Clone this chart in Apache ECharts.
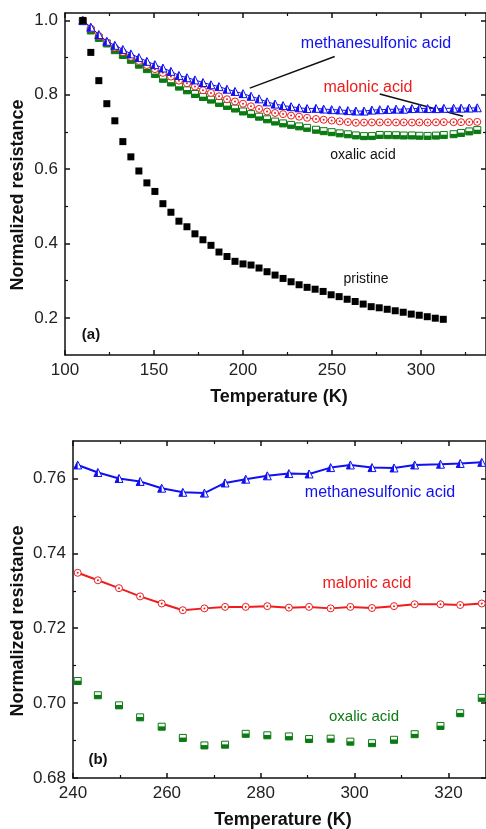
<!DOCTYPE html>
<html>
<head>
<meta charset="utf-8">
<script src="https://cdn.jsdelivr.net/npm/echarts@6.0.0/dist/echarts.min.js"></script>
<style>
  html, body { margin: 0; padding: 0; background: #fff; }
  #chart { width: 486px; height: 829px; }
</style>
</head>
<body>
<div id="chart"></div>
<script>
// panel (a): pristine sample
var tempPristine = [110, 114.5, 119, 123.5, 128, 132.5, 137, 141.5, 146, 150.5, 155, 159.5, 164, 168.5, 173, 177.5,
    182, 186.5, 191, 195.5, 200, 204.5, 209, 213.5, 218, 222.5, 227, 231.5, 236, 240.5, 245, 249.5, 254, 258.5,
    263, 267.5, 272, 276.5, 281, 285.5, 290, 294.5, 299, 303.5, 308, 312.5];
var pristine = [1.0, 0.914, 0.838, 0.776, 0.730, 0.674, 0.633, 0.595, 0.563, 0.540, 0.507, 0.484, 0.460, 0.445, 0.426, 0.410,
    0.395, 0.377, 0.365, 0.352, 0.345, 0.342, 0.334, 0.324, 0.315, 0.306, 0.297, 0.289, 0.282, 0.277, 0.271, 0.262, 0.257, 0.250,
    0.244, 0.237, 0.230, 0.227, 0.223, 0.219, 0.215, 0.210, 0.207, 0.203, 0.199, 0.196];

// panel (a): acid treated samples
var tempAcidA = [110, 114.5, 119, 123.5, 128, 132.5, 137, 141.5, 146, 150.5, 155, 159.5, 164, 168.5, 173, 177.5,
    182, 186.5, 191, 195.5, 200, 204.5, 209, 213.5, 218, 222.5, 227, 231.5, 236,
    241, 245.3, 249.8, 254.3, 258.9, 263.4, 268, 272.4, 276.8, 281.4, 286, 290.3, 294.9, 299.1, 303.7, 308.4,
    312.8, 318.3, 322.5, 327.1, 331.6];
var methaneA = [1.0, 0.982, 0.962, 0.944, 0.933, 0.922, 0.910, 0.900, 0.890, 0.881, 0.872, 0.863, 0.852, 0.846, 0.840, 0.833,
    0.827, 0.822, 0.815, 0.809, 0.803, 0.796, 0.789, 0.781, 0.775, 0.771, 0.768, 0.765, 0.763,
    0.7636, 0.7616, 0.7600, 0.7592, 0.7574, 0.7563, 0.7561, 0.7588, 0.7598, 0.7607, 0.7613, 0.7612, 0.7629, 0.7636, 0.7629, 0.7628,
    0.7636, 0.7638, 0.7640, 0.7643, 0.7650];
var malonicA = [1.0, 0.978, 0.958, 0.941, 0.927, 0.915, 0.902, 0.891, 0.880, 0.869, 0.859, 0.849, 0.838, 0.831, 0.822, 0.812,
    0.805, 0.796, 0.788, 0.782, 0.776, 0.769, 0.762, 0.755, 0.751, 0.748, 0.744, 0.741, 0.738,
    0.7348, 0.7328, 0.7307, 0.7285, 0.7266, 0.7248, 0.7253, 0.7257, 0.7257, 0.7259, 0.7255, 0.7257, 0.7253, 0.7257, 0.7254, 0.7259,
    0.7264, 0.7264, 0.7262, 0.7266, 0.7270];
var oxalicA = [0.998, 0.973, 0.953, 0.938, 0.920, 0.907, 0.894, 0.881, 0.869, 0.856, 0.843, 0.833, 0.822, 0.812, 0.802, 0.794,
    0.787, 0.778, 0.770, 0.763, 0.755, 0.748, 0.741, 0.734, 0.728, 0.723, 0.719, 0.715, 0.711,
    0.7059, 0.7021, 0.6994, 0.6962, 0.6937, 0.6907, 0.6887, 0.6889, 0.6918, 0.6914, 0.6911, 0.6904, 0.6905, 0.6897, 0.6893, 0.6902,
    0.6917, 0.6939, 0.6973, 0.7014, 0.7050];

// panel (b): zoom 240-330 K
var tempB = [241, 245.3, 249.8, 254.3, 258.9, 263.4, 268, 272.4, 276.8, 281.4, 286, 290.3, 294.9, 299.1, 303.7, 308.4,
    312.8, 318.3, 322.5, 327.1];
var methaneB = [0.7636, 0.7616, 0.7600, 0.7592, 0.7574, 0.7563, 0.7561, 0.7588, 0.7598, 0.7607, 0.7613, 0.7612, 0.7629, 0.7636,
    0.7629, 0.7628, 0.7636, 0.7638, 0.7640, 0.7643];
var malonicB = [0.7348, 0.7328, 0.7307, 0.7285, 0.7266, 0.7248, 0.7253, 0.7257, 0.7257, 0.7259, 0.7255, 0.7257, 0.7253, 0.7257,
    0.7254, 0.7259, 0.7264, 0.7264, 0.7262, 0.7266];
var oxalicB = [0.7059, 0.7021, 0.6994, 0.6962, 0.6937, 0.6907, 0.6887, 0.6889, 0.6918, 0.6914, 0.6911, 0.6904, 0.6905, 0.6897,
    0.6893, 0.6902, 0.6917, 0.6939, 0.6973, 0.7014];

// tick values
var xMajorA = [100, 150, 200, 250, 300];
var xMinorA = [125, 175, 225, 275, 325];
var yMajorA = [0.2, 0.4, 0.6, 0.8, 1.0];
var yMinorA = [0.3, 0.5, 0.7, 0.9];
var xMajorB = [240, 260, 280, 300, 320];
var xMinorB = [250, 270, 290, 310];
var yMajorB = [0.68, 0.70, 0.72, 0.74, 0.76];
var yMinorB = [0.69, 0.71, 0.73, 0.75];

var FONT = '"Liberation Sans", Arial, sans-serif';
var BLUE = '#1010f0';
var RED = '#ee1c1c';
var GREEN = '#0b7a12';
var INK = '#111';

function zip(xs, ys) {
    return xs.map(function (x, i) { return [x, ys[i]]; });
}

// main axis (line + long ticks + labels) and a second one on top of it for the short ticks
function makeAxes(grid, pos, min, max, majors, minors, fmt) {
    var main = {
        type: 'value', gridIndex: grid, position: pos, min: min, max: max,
        splitLine: { show: false },
        axisLine: { show: true, onZero: false, lineStyle: { color: INK, width: 1.5 } },
        axisTick: { show: true, inside: true, length: 5, customValues: majors, lineStyle: { color: INK, width: 1.5 } },
        axisLabel: fmt ? {
            show: true, customValues: majors, formatter: fmt,
            fontFamily: FONT, fontSize: 17, color: '#222', margin: 7
        } : { show: false }
    };
    var minor = {
        type: 'value', gridIndex: grid, position: pos, min: min, max: max,
        splitLine: { show: false },
        axisLine: { show: false, onZero: false },
        axisTick: { show: true, inside: true, length: 3, customValues: minors, lineStyle: { color: INK, width: 1.2 } },
        axisLabel: { show: false }
    };
    return [main, minor];
}

var fmtA = function (v) { return v.toFixed(1); };
var fmtB = function (v) { return v.toFixed(2); };
var fmtX = function (v) { return String(Math.round(v)); };

// axis indices: x 0-3 / y 0-3 are panel (a), x 4-7 / y 4-7 panel (b)
var xAxes = [].concat(
    makeAxes(0, 'bottom', 100, 336.5, xMajorA, xMinorA, fmtX),
    makeAxes(0, 'top', 100, 336.5, xMajorA, xMinorA, null),
    makeAxes(1, 'bottom', 240, 328, xMajorB, xMinorB, fmtX),
    makeAxes(1, 'top', 240, 328, xMajorB, xMinorB, null)
);
var yAxes = [].concat(
    makeAxes(0, 'left', 0.1, 1.02, yMajorA, yMinorA, fmtA),
    makeAxes(0, 'right', 0.1, 1.02, yMajorA, yMinorA, null),
    makeAxes(1, 'left', 0.68, 0.77, yMajorB, yMinorB, fmtB),
    makeAxes(1, 'right', 0.68, 0.77, yMajorB, yMinorB, null)
);

// series helpers: open marker + filled part drawn as a second layer
function triangleSeries(name, data, xi, lineWidth, size) {
    return [{
        name: name, type: 'line', xAxisIndex: xi, yAxisIndex: xi, data: data, z: 5,
        symbol: 'triangle', symbolSize: size,
        lineStyle: { color: BLUE, width: lineWidth },
        itemStyle: { color: '#fff', borderColor: BLUE, borderWidth: 1, opacity: 1 }
    }, {
        name: name, type: 'scatter', xAxisIndex: xi, yAxisIndex: xi, data: data, z: 6,
        symbol: 'path://M0,10L5,0L5,10Z', symbolKeepAspect: false,
        symbolSize: [size / 2, size], symbolOffset: [-size / 4, 0],
        itemStyle: { color: BLUE, opacity: 1 }
    }];
}

function circleSeries(name, data, xi, lineWidth, size) {
    return [{
        name: name, type: 'line', xAxisIndex: xi, yAxisIndex: xi, data: data, z: 4,
        symbol: 'circle', symbolSize: size,
        lineStyle: { color: RED, width: lineWidth },
        itemStyle: { color: '#fff', borderColor: RED, borderWidth: 1, opacity: 1 }
    }, {
        name: name, type: 'scatter', xAxisIndex: xi, yAxisIndex: xi, data: data, z: 4,
        symbol: 'circle', symbolSize: 2,
        itemStyle: { color: RED, opacity: 1 }
    }];
}

function squareSeries(name, data, xi, size) {
    return [{
        name: name, type: 'scatter', xAxisIndex: xi, yAxisIndex: xi, data: data, z: 3,
        symbol: 'rect', symbolSize: size,
        itemStyle: { color: '#fff', borderColor: GREEN, borderWidth: 1, opacity: 1 }
    }, {
        name: name, type: 'scatter', xAxisIndex: xi, yAxisIndex: xi, data: data, z: 3,
        symbol: 'rect', symbolSize: [size, size * 0.55], symbolOffset: [0, size * 0.225],
        itemStyle: { color: GREEN, opacity: 1 }
    }];
}

var pointer = {
    silent: true, symbol: 'none', animation: false,
    label: { show: false },
    lineStyle: { color: INK, width: 1.5, type: 'solid' },
    data: [
        [{ coord: [251.5, 0.903] }, { coord: [203.8, 0.818] }],
        [{ coord: [276.8, 0.802] }, { coord: [323.6, 0.742] }]
    ]
};

var blueA = triangleSeries('methanesulfonic acid', zip(tempAcidA, methaneA), 0, 1, 8);
blueA[0].markLine = pointer;

var series = [].concat(
    squareSeries('oxalic acid', zip(tempAcidA, oxalicA), 0, 7),
    circleSeries('malonic acid', zip(tempAcidA, malonicA), 0, 1, 7),
    blueA,
    [{
        name: 'pristine', type: 'scatter', xAxisIndex: 0, yAxisIndex: 0, z: 6,
        data: zip(tempPristine, pristine),
        symbol: 'rect', symbolSize: 7, itemStyle: { color: '#000', opacity: 1 }
    }],
    squareSeries('oxalic acid', zip(tempB, oxalicB), 4, 7),
    circleSeries('malonic acid', zip(tempB, malonicB), 4, 2, 7),
    triangleSeries('methanesulfonic acid', zip(tempB, methaneB), 4, 2, 8)
);

function label(text, x, y, color, size, bold, rotate) {
    return {
        type: 'text', x: x, y: y, rotation: rotate || 0, z: 10,
        style: {
            text: text, fill: color, font: (bold ? 'bold ' : '') + size + 'px ' + FONT,
            textAlign: 'center', textVerticalAlign: 'middle'
        }
    };
}

var chart = echarts.init(document.getElementById('chart'));
chart.setOption({
    animation: false,
    backgroundColor: '#fff',
    grid: [
        { left: 65, top: 13, width: 421, height: 342, outerBoundsMode: 'none' },
        { left: 73, top: 441, width: 413, height: 337, outerBoundsMode: 'none' }
    ],
    xAxis: xAxes,
    yAxis: yAxes,
    series: series,
    graphic: [
        label('methanesulfonic acid', 376, 44, BLUE, 16),
        label('malonic acid', 368, 88, RED, 16),
        label('oxalic acid', 363, 155, INK, 14),
        label('pristine', 366, 279, INK, 14),
        label('(a)', 91, 335, INK, 15, true),
        label('Temperature (K)', 279, 397, INK, 18, true),
        label('Normalized resistance', 18, 195, INK, 18, true, Math.PI / 2),
        label('methanesulfonic acid', 380, 493, BLUE, 16),
        label('malonic acid', 367, 584, RED, 16),
        label('oxalic acid', 364, 717, GREEN, 15),
        label('(b)', 98, 760, INK, 15, true),
        label('Temperature (K)', 283, 820, INK, 18, true),
        label('Normalized resistance', 18, 621, INK, 18, true, Math.PI / 2)
    ]
});
</script>
</body>
</html>
